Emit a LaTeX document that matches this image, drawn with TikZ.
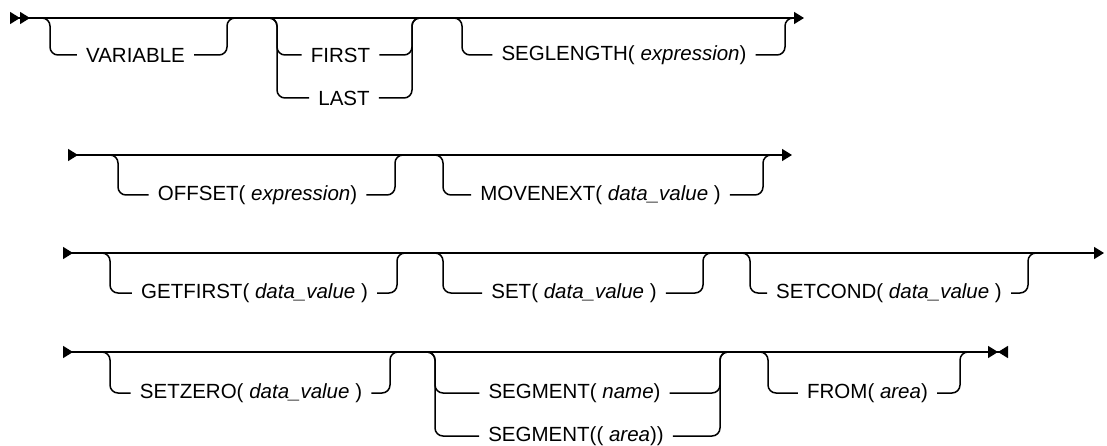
\documentclass[tikz,border=0pt]{standalone}
\usepackage{fontspec}
\setmainfont{Liberation Sans}
\usetikzlibrary{arrows.meta}

\begin{document}
\begin{tikzpicture}[x=1pt,y=-1pt,font=\fontsize{20.5}{24}\selectfont,
  rail/.style={line width=1.5pt,rounded corners=8pt},
  kw/.style={inner xsep=9pt,inner ysep=2pt},
  go/.style={{Triangle[reversed,length=10pt,width=12pt]}-{Triangle[length=10pt,width=12pt]}}]
\useasboundingbox (0,0) rectangle (1107,446);
% row 1
\coordinate (r1a) at (10,18);
\coordinate (r1b) at (804,18);
\draw[rail,{Triangle[reversed,length=10pt,width=12pt]Triangle[reversed,length=10pt,width=12pt]}-{Triangle[length=10pt,width=12pt]}] (r1a) -- (r1b);
\node[kw] (var) at (135.5,55) {VARIABLE};
\draw[rail] (38,18) -| (50,55) -- (var.west);
\draw[rail] (var.east) -| (227,18) -- (239,18);
\node[kw] (first) at (340.5,55) {FIRST};
\node[kw] (last) at (344,98) {LAST};
\draw[rail] (265,18) -| (277,55) -- (first.west);
\draw[rail] (265,18) -| (277,98) -- (last.west);
\draw[rail] (first.east) -| (412,18) -- (424,18);
\draw[rail] (last.east) -| (412,18) -- (424,18);
\node[kw] (segl) at (624,55) {SEGLENGTH( \textit{expression})};
\draw[rail] (450,18) -| (462,55) -- (segl.west);
\draw[rail] (segl.east) -| (785,18) -- (797,18);
% row 2
\coordinate (r2a) at (68,155);
\coordinate (r2b) at (792,155);
\draw[rail,go] (r2a) -- (r2b);
\node[kw] (offs) at (257.5,195) {OFFSET( \textit{expression})};
\draw[rail] (106,155) -| (118,195) -- (offs.west);
\draw[rail] (offs.east) -| (395,155) -- (407,155);
\node[kw] (movn) at (600.5,195) {MOVENEXT( \textit{data\_value} )};
\draw[rail] (431,155) -| (443,195) -- (movn.west);
\draw[rail] (movn.east) -| (763,155) -- (775,155);
% row 3
\coordinate (r3a) at (63,253);
\coordinate (r3b) at (1104,253);
\draw[rail,go] (r3a) -- (r3b);
\node[kw] (getf) at (254.5,293) {GETFIRST( \textit{data\_value} )};
\draw[rail] (98,253) -| (110,293) -- (getf.west);
\draw[rail] (getf.east) -| (397,253) -- (409,253);
\node[kw] (set) at (574,293) {SET( \textit{data\_value} )};
\draw[rail] (431,253) -| (443,293) -- (set.west);
\draw[rail] (set.east) -| (703,253) -- (715,253);
\node[kw] (setc) at (889,293) {SETCOND( \textit{data\_value} )};
\draw[rail] (738,253) -| (750,293) -- (setc.west);
\draw[rail] (setc.east) -| (1028,253) -- (1040,253);
% row 4
\coordinate (r4a) at (63,352);
\coordinate (r4b) at (1008,352);
\draw[rail,{Triangle[reversed,length=10pt,width=12pt]}-{Triangle[length=10pt,width=12pt]Triangle[reversed,length=10pt,width=12pt]}] (r4a) -- (r4b);
\node[kw] (setz) at (251,393) {SETZERO( \textit{data\_value} )};
\draw[rail] (98,352) -| (110,393) -- (setz.west);
\draw[rail] (setz.east) -| (390,352) -- (402,352);
\node[kw] (segn) at (574.5,393) {SEGMENT( \textit{name})};
\node[kw] (sega) at (576,436) {SEGMENT(( \textit{area}))};
\draw[rail] (423,352) -| (435,393) -- (segn.west);
\draw[rail] (423,352) -| (435,436) -- (sega.west);
\draw[rail] (segn.east) -| (720,352) -- (732,352);
\draw[rail] (sega.east) -| (720,352) -- (732,352);
\node[kw] (from) at (867.5,393) {FROM( \textit{area})};
\draw[rail] (756,352) -| (768,393) -- (from.west);
\draw[rail] (from.east) -| (960,352) -- (972,352);
\end{tikzpicture}
\end{document}
